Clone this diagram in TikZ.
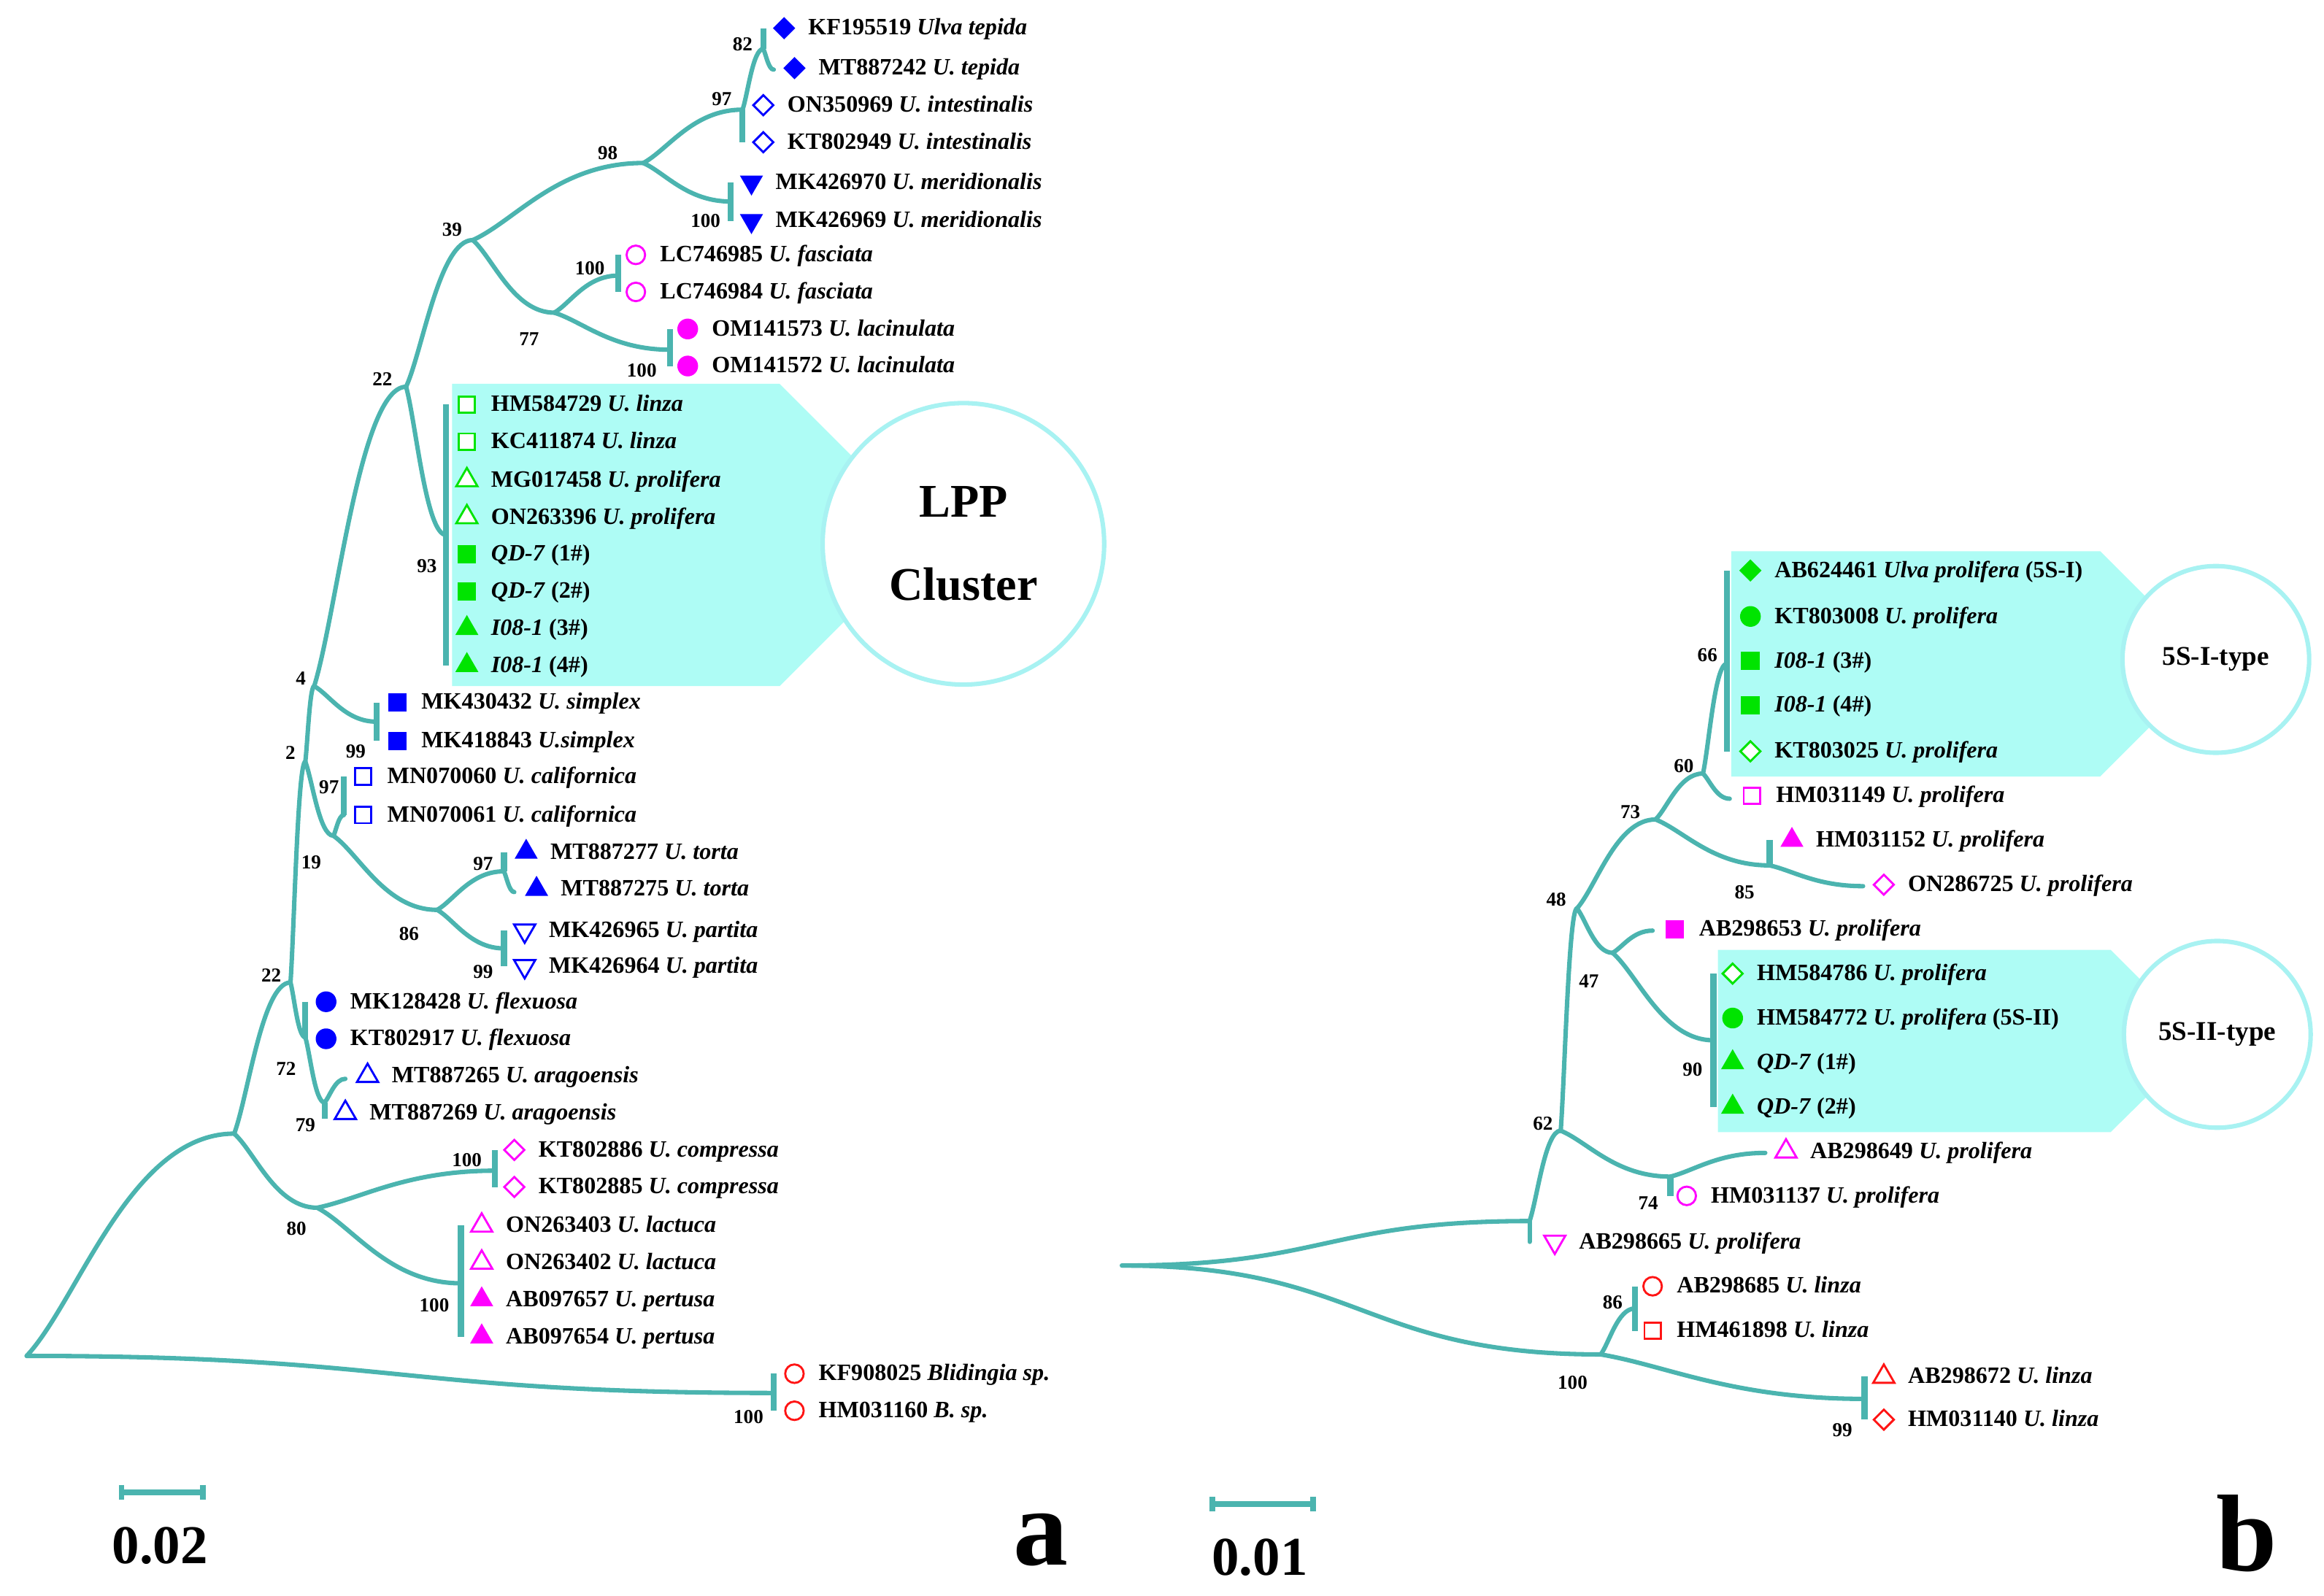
\documentclass[tikz,border=0pt]{standalone}
\usepackage{fontspec}
\setmainfont{Liberation Serif}
\usetikzlibrary{shapes.geometric,calc}

\definecolor{treeteal}{RGB}{75,180,175}
\definecolor{boxcyan}{RGB}{174,252,245}
\definecolor{ringcyan}{RGB}{168,242,242}
\definecolor{lblue}{RGB}{0,0,255}
\definecolor{lmag}{RGB}{255,0,255}
\definecolor{lgreen}{RGB}{0,228,0}
\definecolor{lred}{RGB}{255,20,20}

\tikzset{
  branch/.style={draw=treeteal,line width=1.7pt,line cap=round},
  tipbar/.style={draw=treeteal,line width=2.3pt},
  boot/.style={inner sep=0pt,font=\fontsize{7.6}{8}\selectfont\bfseries},
  leaftxt/.style={anchor=west,inner sep=0pt,font=\fontsize{9}{10}\selectfont\bfseries,
    text height=1.6ex,text depth=0.45ex},
  mk/.style={inner sep=0pt,outer sep=0pt,line width=0.8pt},
  fsq/.style={mk,rectangle,fill=#1,minimum size=0.25cm},
  osq/.style={mk,rectangle,draw=#1,fill=white,minimum size=0.22cm},
  fcir/.style={mk,circle,fill=#1,minimum size=0.28cm},
  ocir/.style={mk,circle,draw=#1,fill=white,minimum size=0.25cm},
  fdia/.style={mk,diamond,fill=#1,minimum size=0.3cm},
  odia/.style={mk,diamond,draw=#1,fill=white,minimum size=0.27cm},
  ftru/.style={mk,regular polygon,regular polygon sides=3,fill=#1,minimum size=0.36cm},
  otru/.style={mk,regular polygon,regular polygon sides=3,draw=#1,fill=white,minimum size=0.33cm},
  ftrd/.style={ftru=#1,shape border rotate=180},
  otrd/.style={otru=#1,shape border rotate=180},
  clusterbox/.style={fill=boxcyan,draw=none},
  ring/.style={circle,draw=ringcyan,line width=1.7pt,fill=white,inner sep=0pt},
  scalebar/.style={draw=treeteal,line width=2.2pt},
}

% curved branch from parent to child
\newcommand{\br}[2]{\draw[branch] (#1) let \p1=(#1), \p2=(#2) in
  .. controls ({0.75*\x1+0.25*\x2},{0.75*\y1+0.25*\y2}) and ({0.5*\x1+0.5*\x2},\y2) .. (#2);}
% s-shaped branch, flat at both ends
\newcommand{\brs}[2]{\draw[branch] (#1) let \p1=(#1), \p2=(#2) in
  .. controls ({0.5*\x1+0.5*\x2},\y1) and ({0.5*\x1+0.5*\x2},\y2) .. (#2);}
% leaf symbol and its label
\newcommand{\leaf}[5]{\node[#4] (#1) at (#2,#3) {};
  \node[leaftxt] (#1t) at ([xshift=0.32cm]#1.center) {#5};}

\begin{document}
\begin{tikzpicture}[x=0.02cm,y=-0.02cm]
  \useasboundingbox (0,0) rectangle (1568,1077);

  % cluster backgrounds
  \fill[clusterbox] (305,259) -- (526,259) -- (628,361) -- (526,463) -- (305,463) -- cycle;
  \node[ring,minimum size=3.8cm,align=center,font=\fontsize{18}{32}\selectfont\bfseries]
    (lpp) at (650,367) {LPP\\Cluster};
  \fill[clusterbox] (1168,372) -- (1417,372) -- (1493,448) -- (1417,524) -- (1168,524) -- cycle;
  \node[ring,minimum size=2.52cm,font=\fontsize{10.4}{12}\selectfont\bfseries]
    (typeI) at (1495,445) {5S-I-type};
  \fill[clusterbox] (1159,641) -- (1424,641) -- (1486,703) -- (1424,764) -- (1159,764) -- cycle;
  \node[ring,minimum size=2.52cm,font=\fontsize{10.4}{12}\selectfont\bfseries]
    (typeII) at (1496,698) {5S-II-type};

  % ---- panel a: inner nodes
  \coordinate (ra) at (18,915);
  \coordinate (a1) at (158,765);
  \coordinate (abl) at (522,940);
  \coordinate (a80) at (214,815);
  \coordinate (acomp) at (334,790);
  \coordinate (alac) at (311,866);
  \coordinate (a22b) at (196,663);
  \coordinate (a72) at (206,700);
  \coordinate (a79) at (219,744);
  \coordinate (aarg) at (233,728);
  \coordinate (a2) at (206,514);
  \coordinate (a4) at (212,463);
  \coordinate (asim) at (254,487);
  \coordinate (a19) at (225,564);
  \coordinate (acal) at (232,550);
  \coordinate (a86) at (295,614);
  \coordinate (ator) at (340,588);
  \coordinate (atail) at (347,602);
  \coordinate (apar) at (340,640);
  \coordinate (a22t) at (274,261);
  \coordinate (alpp) at (301,361);
  \coordinate (a39) at (319,162);
  \coordinate (a98) at (434,110);
  \coordinate (a97) at (501,74);
  \coordinate (a82) at (515,33);
  \coordinate (a82t) at (522,47);
  \coordinate (amer) at (493,136);
  \coordinate (a77) at (374,211);
  \coordinate (afas) at (417,186);
  \coordinate (alcn) at (452,236);

  % ---- panel a: leaves
  \leaf{la1}{529}{19}{fdia=lblue}{KF195519 \textit{Ulva tepida}}
  \leaf{la2}{536}{46}{fdia=lblue}{MT887242 \textit{U. tepida}}
  \leaf{la3}{515}{71}{odia=lblue}{ON350969 \textit{U. intestinalis}}
  \leaf{la4}{515}{96}{odia=lblue}{KT802949 \textit{U. intestinalis}}
  \leaf{la5}{507}{123}{ftrd=lblue}{MK426970 \textit{U. meridionalis}}
  \leaf{la6}{507}{149}{ftrd=lblue}{MK426969 \textit{U. meridionalis}}
  \leaf{la7}{429}{172}{ocir=lmag}{LC746985 \textit{U. fasciata}}
  \leaf{la8}{429}{197}{ocir=lmag}{LC746984 \textit{U. fasciata}}
  \leaf{la9}{464}{222}{fcir=lmag}{OM141573 \textit{U. lacinulata}}
  \leaf{la10}{464}{247}{fcir=lmag}{OM141572 \textit{U. lacinulata}}
  \leaf{la11}{315}{273}{osq=lgreen}{HM584729 \textit{U. linza}}
  \leaf{la12}{315}{298}{osq=lgreen}{KC411874 \textit{U. linza}}
  \leaf{la13}{315}{324}{otru=lgreen}{MG017458 \textit{U. prolifera}}
  \leaf{la14}{315}{349}{otru=lgreen}{ON263396 \textit{U. prolifera}}
  \leaf{la15}{315}{374}{fsq=lgreen}{\textit{QD-7} (1\#)}
  \leaf{la16}{315}{399}{fsq=lgreen}{\textit{QD-7} (2\#)}
  \leaf{la17}{315}{424}{ftru=lgreen}{\textit{I08-1} (3\#)}
  \leaf{la18}{315}{449}{ftru=lgreen}{\textit{I08-1} (4\#)}
  \leaf{la19}{268}{474}{fsq=lblue}{MK430432 \textit{U. simplex}}
  \leaf{la20}{268}{500}{fsq=lblue}{MK418843 \textit{U.simplex}}
  \leaf{la21}{245}{524}{osq=lblue}{MN070060 \textit{U. californica}}
  \leaf{la22}{245}{550}{osq=lblue}{MN070061 \textit{U. californica}}
  \leaf{la23}{355}{575}{ftru=lblue}{MT887277 \textit{U. torta}}
  \leaf{la24}{362}{600}{ftru=lblue}{MT887275 \textit{U. torta}}
  \leaf{la25}{354}{628}{otrd=lblue}{MK426965 \textit{U. partita}}
  \leaf{la26}{354}{652}{otrd=lblue}{MK426964 \textit{U. partita}}
  \leaf{la27}{220}{676}{fcir=lblue}{MK128428 \textit{U. flexuosa}}
  \leaf{la28}{220}{701}{fcir=lblue}{KT802917 \textit{U. flexuosa}}
  \leaf{la29}{248}{726}{otru=lblue}{MT887265 \textit{U. aragoensis}}
  \leaf{la30}{233}{751}{otru=lblue}{MT887269 \textit{U. aragoensis}}
  \leaf{la31}{347}{776}{odia=lmag}{KT802886 \textit{U. compressa}}
  \leaf{la32}{347}{801}{odia=lmag}{KT802885 \textit{U. compressa}}
  \leaf{la33}{325}{827}{otru=lmag}{ON263403 \textit{U. lactuca}}
  \leaf{la34}{325}{852}{otru=lmag}{ON263402 \textit{U. lactuca}}
  \leaf{la35}{325}{877}{ftru=lmag}{AB097657 \textit{U. pertusa}}
  \leaf{la36}{325}{902}{ftru=lmag}{AB097654 \textit{U. pertusa}}
  \leaf{la37}{536}{927}{ocir=lred}{KF908025 \textit{Blidingia sp.}}
  \leaf{la38}{536}{952}{ocir=lred}{HM031160 \textit{B. sp.}}

  % ---- panel a: branches
  \br{ra}{a1} \brs{ra}{abl} \br{a1}{a80} \br{a80}{acomp} \br{a80}{alac}
  \br{a1}{a22b} \br{a22b}{a72} \br{a72}{a79} \br{a79}{aarg}
  \br{a22b}{a2} \br{a2}{a4} \br{a4}{asim} \br{a2}{a19} \br{a19}{acal}
  \br{a19}{a86} \br{a86}{ator} \br{ator}{atail} \br{a86}{apar}
  \br{a4}{a22t} \br{a22t}{alpp} \br{a22t}{a39} \br{a39}{a98}
  \br{a98}{a97} \br{a97}{a82} \br{a82}{a82t} \br{a98}{amer}
  \br{a39}{a77} \br{a77}{afas} \br{a77}{alcn}

  \draw[tipbar] (abl |- la37) -- (abl |- la38);
  \draw[tipbar] (acomp |- la31) -- (acomp |- la32);
  \draw[tipbar] (alac |- la33) -- (alac |- la36);
  \draw[tipbar] (a72 |- la27) -- (a72 |- la28);
  \draw[tipbar] (a79) -- ++(0,11);
  \draw[tipbar] (asim |- la19) -- (asim |- la20);
  \draw[tipbar] (acal |- la21) -- (acal |- la22);
  \draw[tipbar] (ator |- la23) -- (ator);
  \draw[tipbar] (apar |- la25) -- (apar |- la26);
  \draw[tipbar] (alpp |- la11) -- (alpp |- la18);
  \draw[tipbar] (a97) -- (a97 |- la4);
  \draw[tipbar] (a82 |- la1) -- (a82);
  \draw[tipbar] (amer |- la5) -- (amer |- la6);
  \draw[tipbar] (afas |- la7) -- (afas |- la8);
  \draw[tipbar] (alcn |- la9) -- (alcn |- la10);

  % bootstrap values, panel a
  \foreach \x/\y/\t [count=\i] in {501/30/82, 487/67/97, 410/103/98, 476/149/100,
      305/155/39, 398/181/100, 357/229/77, 433/250/100, 258/256/22, 288/382/93,
      203/458/4, 240/507/99, 196/508/2, 222/531/97, 210/582/19, 326/583/97,
      276/630/86, 326/656/99, 183/658/22, 193/721/72, 206/759/79, 315/783/100,
      200/829/80, 293/881/100, 505/956/100}
    \node[boot] (bsa\i) at (\x,\y) {\t};

  % ---- panel b: inner nodes
  \coordinate (rb) at (757,854);
  \coordinate (b1) at (1032,824);
  \coordinate (b62) at (1053,763);
  \coordinate (b74) at (1127,794);
  \coordinate (b649) at (1191,778);
  \coordinate (b48) at (1064,613);
  \coordinate (b47) at (1088,643);
  \coordinate (b653) at (1115,628);
  \coordinate (b90) at (1156,702);
  \coordinate (b73) at (1117,553);
  \coordinate (b85) at (1194,584);
  \coordinate (b725) at (1257,598);
  \coordinate (b60) at (1149,522);
  \coordinate (b149) at (1167,539);
  \coordinate (b66) at (1165,448);
  \coordinate (b100) at (1080,914);
  \coordinate (b86) at (1103,883);
  \coordinate (b99) at (1258,944);

  % ---- panel b: leaves
  \leaf{lb1}{1181}{385}{fdia=lgreen}{AB624461 \textit{Ulva prolifera} (5S-I)}
  \leaf{lb2}{1181}{416}{fcir=lgreen}{KT803008 \textit{U. prolifera}}
  \leaf{lb3}{1181}{446}{fsq=lgreen}{\textit{I08-1} (3\#)}
  \leaf{lb4}{1181}{476}{fsq=lgreen}{\textit{I08-1} (4\#)}
  \leaf{lb5}{1181}{507}{odia=lgreen}{KT803025 \textit{U. prolifera}}
  \leaf{lb6}{1182}{537}{osq=lmag}{HM031149 \textit{U. prolifera}}
  \leaf{lb7}{1209}{567}{ftru=lmag}{HM031152 \textit{U. prolifera}}
  \leaf{lb8}{1271}{597}{odia=lmag}{ON286725 \textit{U. prolifera}}
  \leaf{lb9}{1130}{627}{fsq=lmag}{AB298653 \textit{U. prolifera}}
  \leaf{lb10}{1169}{657}{odia=lgreen}{HM584786 \textit{U. prolifera}}
  \leaf{lb11}{1169}{687}{fcir=lgreen}{HM584772 \textit{U. prolifera} (5S-II)}
  \leaf{lb12}{1169}{717}{ftru=lgreen}{\textit{QD-7} (1\#)}
  \leaf{lb13}{1169}{747}{ftru=lgreen}{\textit{QD-7} (2\#)}
  \leaf{lb14}{1205}{777}{otru=lmag}{AB298649 \textit{U. prolifera}}
  \leaf{lb15}{1138}{807}{ocir=lmag}{HM031137 \textit{U. prolifera}}
  \leaf{lb16}{1049}{838}{otrd=lmag}{AB298665 \textit{U. prolifera}}
  \leaf{lb17}{1115}{868}{ocir=lred}{AB298685 \textit{U. linza}}
  \leaf{lb18}{1115}{898}{osq=lred}{HM461898 \textit{U. linza}}
  \leaf{lb19}{1271}{929}{otru=lred}{AB298672 \textit{U. linza}}
  \leaf{lb20}{1271}{958}{odia=lred}{HM031140 \textit{U. linza}}

  % ---- panel b: branches
  \brs{rb}{b1} \br{b1}{b62} \br{b62}{b74} \br{b74}{b649} \br{b62}{b48}
  \br{b48}{b47} \br{b47}{b653} \br{b47}{b90} \br{b48}{b73} \br{b73}{b85}
  \br{b85}{b725} \br{b73}{b60} \br{b60}{b149} \br{b60}{b66}
  \brs{rb}{b100} \br{b100}{b86} \br{b100}{b99}

  \draw[branch] (b1) -- (b1 |- lb16);
  \draw[tipbar] (b66 |- lb1) -- (b66 |- lb5);
  \draw[tipbar] (b85) -- (b85 |- lb7);
  \draw[tipbar] (b90 |- lb10) -- (b90 |- lb13);
  \draw[tipbar] (b74) -- (b74 |- lb15);
  \draw[tipbar] (b86 |- lb17) -- (b86 |- lb18);
  \draw[tipbar] (b99 |- lb19) -- (b99 |- lb20);

  % bootstrap values, panel b
  \foreach \x/\y/\t [count=\i] in {1152/442/66, 1136/517/60, 1100/548/73,
      1177/602/85, 1050/607/48, 1072/662/47, 1142/722/90, 1041/758/62,
      1112/812/74, 1088/879/86, 1061/933/100, 1243/965/99}
    \node[boot] (bsb\i) at (\x,\y) {\t};

  % ---- scale bars and panel letters
  \coordinate (sa1) at (82,1007);
  \coordinate (sa2) at (137,1007);
  \draw[scalebar] (sa1) -- (sa2);
  \draw[scalebar] (sa1) ++(0,-5) -- ++(0,10);
  \draw[scalebar] (sa2) ++(0,-5) -- ++(0,10);
  \node[font=\fontsize{21}{24}\selectfont\bfseries] (sla) at (108,1043) {0.02};

  \coordinate (sb1) at (818,1015);
  \coordinate (sb2) at (886,1015);
  \draw[scalebar] (sb1) -- (sb2);
  \draw[scalebar] (sb1) ++(0,-5) -- ++(0,10);
  \draw[scalebar] (sb2) ++(0,-5) -- ++(0,10);
  \node[font=\fontsize{21}{24}\selectfont\bfseries] (slb) at (850,1051) {0.01};

  \node[font=\fontsize{42}{44}\selectfont\bfseries] (pa) at (702,1039) {a};
  \node[font=\fontsize{42}{44}\selectfont\bfseries] (pb) at (1516,1035) {b};
\end{tikzpicture}
\end{document}
